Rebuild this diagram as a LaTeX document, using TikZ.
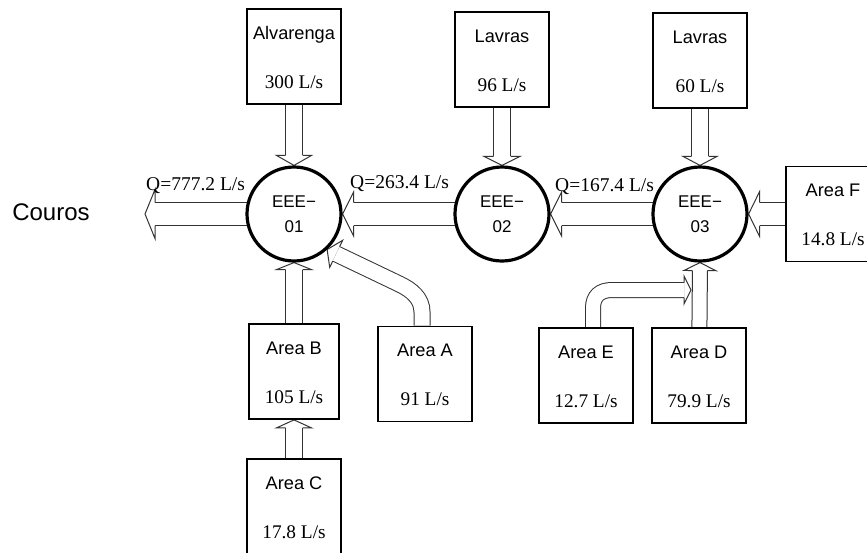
\documentclass[tikz,border=0pt]{standalone}
\usepackage{fontspec}
\setmainfont{Liberation Serif}
\setsansfont{Liberation Sans}
\usetikzlibrary{calc,backgrounds}

% hollow arrow head: base, tip, half shaft, half head
\newcommand{\pipehead}[4]{%
  \draw[pipe] ($(#1)!#3pt!90:(#2)$) -- ($(#1)!#4pt!90:(#2)$) -- (#2)
    -- ($(#1)!#4pt!-90:(#2)$) -- ($(#1)!#3pt!-90:(#2)$);}
% straight hollow arrow: from, to, half shaft, half head, head length
\newcommand{\pipeflow}[5]{%
  \coordinate (pf-b) at ($(#2)!#5pt!(#1)$);
  \draw[pipe] ($(#1)!#3pt!90:(pf-b)$) -- ($(pf-b)!#3pt!-90:(#1)$);
  \draw[pipe] ($(#1)!#3pt!-90:(pf-b)$) -- ($(pf-b)!#3pt!90:(#1)$);
  \pipehead{pf-b}{#2}{#3}{#4}}
% area box with name and flow
\newcommand{\sitebox}[5][]{%
  \node[site,#1] (#2) at (#3) {};
  \node[tag] (#2-l) at ($(#2.north)+(0,31)$) {#4};
  \node[rate] (#2-v) at ($(#2.north)+(0,80)$) {#5};}

\begin{document}
\begin{tikzpicture}[x=1pt, y=-1pt,
  pipe/.style={draw=black!80, line width=1pt},
  station/.style={circle, draw, line width=3.2pt, fill=white, minimum size=94pt,
    inner sep=0pt, align=center, font=\sffamily\fontsize{17}{24.5}\selectfont},
  site/.style={draw, line width=1.8pt, fill=white, minimum width=94pt,
    minimum height=95pt, inner sep=0pt},
  tag/.style={anchor=base, font=\sffamily\fontsize{18.2}{20}\selectfont},
  rate/.style={anchor=base, font=\fontsize{19.3}{21}\selectfont},
  flowq/.style={anchor=base west, inner sep=0pt, font=\fontsize{19.5}{21}\selectfont}]
  \useasboundingbox (0,0) rectangle (867,552);
  \clip (0,0) rectangle (867,552);
  % pumping stations
  \node[station] (e1) at (294,214) {EEE−\\01};
  \node[station] (e2) at (502,214) {EEE−\\02};
  \node[station] (e3) at (700,214) {EEE−\\03};
  % areas
  \sitebox{alv}{294,56.5}{Alvarenga}{300 L/s}
  \sitebox{lav1}{502,59.5}{Lavras}{96 L/s}
  \sitebox{lav2}{700,60.5}{Lavras}{60 L/s}
  \sitebox{areaF}{833,214}{Area F}{14.8 L/s}
  \sitebox[minimum width=90pt]{areaB}{294,371.5}{Area B}{105 L/s}
  \sitebox{areaA}{425,374}{Area A}{91 L/s}
  \sitebox{areaE}{586,375.5}{Area E}{12.7 L/s}
  \sitebox{areaD}{699,375.5}{Area D}{79.9 L/s}
  \sitebox{areaC}{294,506.5}{Area C}{17.8 L/s}
  \node[font=\sffamily\fontsize{24}{28}\selectfont] (couros) at (51,212) {Couros};
  % flows
  \node[flowq] (q1) at (146,190) {Q=777.2 L/s};
  \node[flowq] (q2) at (350,188) {Q=263.4 L/s};
  \node[flowq] (q3) at (555,191.5) {Q=167.4 L/s};
  \coordinate (out) at (145,214);
  \begin{scope}[on background layer]
    \pipeflow{e1.center}{out}{11.5}{24.5}{10}
    \pipeflow{alv.south}{e1.north}{8.5}{17.5}{10}
    \pipeflow{lav1.south}{e2.north}{8.5}{18}{9}
    \pipeflow{lav2.south}{e3.north}{8.5}{17}{9}
    \pipeflow{e2.center}{e1.east}{11.5}{22}{11}
    \pipeflow{e3.center}{e2.east}{11.5}{22}{11}
    \pipeflow{areaF.center}{e3.east}{11.5}{22.5}{11}
    \pipeflow{areaB.center}{e1.south}{8.5}{17.5}{7}
    \pipeflow{areaC.center}{areaB.south}{8.5}{17.5}{8}
    \pipeflow{areaD.center}{e3.south}{7.5}{16}{8}
    % area E bends into the D line
    \coordinate (eStart) at ($(areaE.north)+(7,0)$);
    \coordinate (eTip) at (691,290);
    \coordinate (eBase) at ($(eTip)+(-7,0)$);
    \draw[pipe, double=white, double distance=14pt] (eStart) -- (593,308)
      .. controls (593,296) and (600,290) .. (612,290) -- (eBase);
    \pipehead{eBase}{eTip}{7.5}{14}
    % area A bends up to EEE-01
    \coordinate (aStart) at ($(areaA.north)+(-3,0)$);
    \coordinate (aTip) at (e1.-47);
    \coordinate (aBend) at ($(aTip)+(72,34.4)$);
    \coordinate (aBase) at ($(aTip)!10pt!(aBend)$);
    \draw[pipe, double=white, double distance=15pt] (aStart) -- (422,312)
      .. controls (422,298) and ($(aBend)+(12,5.7)$) .. (aBend) -- (aBase);
    \pipehead{aBase}{aTip}{8}{15}
  \end{scope}
\end{tikzpicture}
\end{document}
